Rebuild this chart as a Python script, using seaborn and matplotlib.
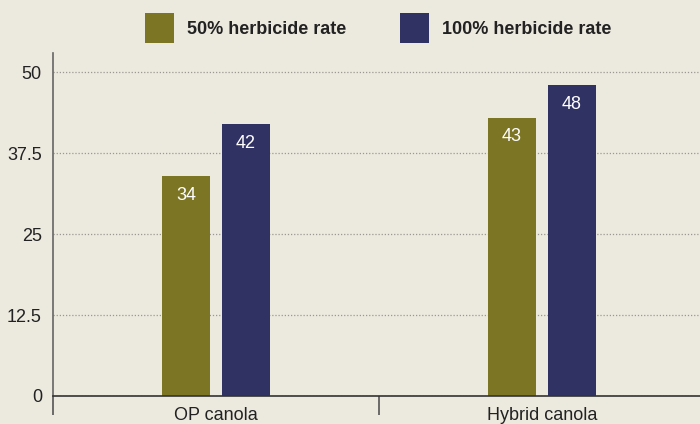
import pandas as pd
import numpy as np
import matplotlib.pyplot as plt
import seaborn as sns
from matplotlib.patches import Patch

categories = ['OP canola', 'Hybrid canola']
rates = ['50% herbicide rate', '100% herbicide rate']
rate_50 = [34, 43]
rate_100 = [42, 48]
yticks = [0, 12.5, 25, 37.5, 50]
ytick_labels = ['0', '12.5', '25', '37.5', '50']

bg = '#ECE9DF'
colors = ['#7C7523', '#313264']

df = pd.DataFrame({
    'crop': categories * 2,
    'rate': [rates[0]] * 2 + [rates[1]] * 2,
    'value': rate_50 + rate_100,
})

sns.set_style('white')
plt.rcParams['font.family'] = ['Liberation Sans', 'DejaVu Sans']

fig = plt.figure(figsize=(7, 4.24), dpi=100, facecolor=bg)
ax = fig.add_axes([53 / 700, 1 - 396 / 424, 652 / 700, 343 / 424])
ax.set_facecolor(bg)

sns.barplot(data=df, x='crop', y='value', hue='rate', order=categories,
            hue_order=rates, palette=colors, width=0.368, gap=0.2,
            saturation=1, legend=False, linewidth=0, edgecolor='none', ax=ax)

for c in ax.containers:
    ax.bar_label(c, fmt='%d', padding=-20, color='white', fontsize=13)

ax.set_xlim(-0.5, 1.5)
ax.set_ylim(0, 53)
ax.set_yticks(yticks)
ax.set_yticklabels(ytick_labels)
ax.yaxis.grid(True, linestyle=(0, (1, 1.5)), color='#9a9890', linewidth=0.9)
ax.set_axisbelow(True)

ax.set_xticks([0, 1])
ax.set_xticklabels(categories)
ax.set_xticks([-0.5, 0.5, 1.5], minor=True)
ax.tick_params(axis='x', which='major', bottom=True, length=0, labelsize=13,
               labelcolor='#222222', pad=8)
ax.tick_params(axis='x', which='minor', bottom=True, length=14, width=1.2,
               color='#555555', direction='out')
ax.tick_params(axis='y', length=0, labelsize=13, labelcolor='#222222', pad=8)
ax.set_xlabel('')
ax.set_ylabel('')

for s in ['top', 'right']:
    ax.spines[s].set_visible(False)
ax.spines['bottom'].set_color('#333333')
ax.spines['bottom'].set_linewidth(1.2)
ax.spines['left'].set_color('#666666')
ax.spines['left'].set_linewidth(1.2)

handles = [Patch(facecolor=colors[i], edgecolor='none') for i in range(2)]
leg = fig.legend(handles, rates, loc='center left', bbox_to_anchor=(129 / 700, 1 - 28 / 424),
                 ncol=2, frameon=False, handlelength=1.6, handleheight=2.1,
                 handletextpad=0.7, columnspacing=3.0,
                 prop={'weight': 'bold', 'size': 13})
for t in leg.get_texts():
    t.set_color('#222222')

fig.savefig('out.png', dpi=100, facecolor=bg)
